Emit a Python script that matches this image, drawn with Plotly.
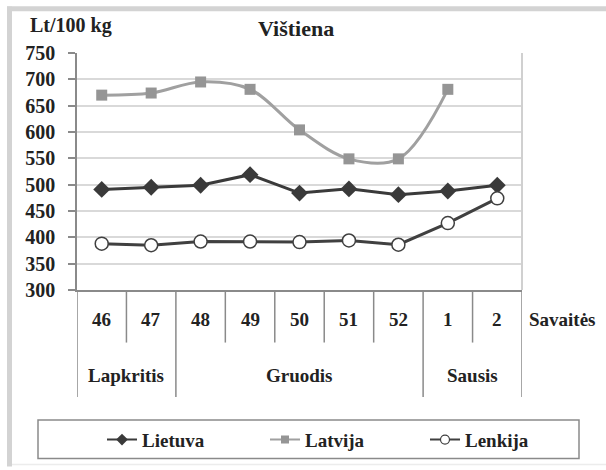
import plotly.graph_objects as go

weeks = ["46", "47", "48", "49", "50", "51", "52", "1", "2"]
months = ["Lapkritis", "Gruodis", "Sausis"]
month_centers = [0.5, 4.0, 7.5]
month_bounds = [-0.5, 1.5, 6.5, 8.5]
lietuva = [491, 495, 499, 519, 484, 492, 481, 488, 499]
latvija = [670, 674, 695, 681, 604, 549, 549, 681, None]
lenkija = [388, 385, 392, 392, 391, 394, 386, 427, 474]

FONT = "Liberation Serif, Times New Roman, serif"
TXT = "#222222"

# plot area in pixels
L, R, T, B = 77, 522, 53, 292
W, H = R - L, B - T
def px(x):
    return (x - L) / W
def py(y):
    return (B - y) / H

xs = list(range(len(weeks)))

styles = {
    "Lietuva": dict(line=dict(color="#3a3a3a", width=3),
                    marker=dict(symbol="diamond", size=13, color="#3a3a3a")),
    "Latvija": dict(line=dict(color="#a0a0a0", width=3, shape="spline", smoothing=1),
                    marker=dict(symbol="square", size=11, color="#959595")),
    "Lenkija": dict(line=dict(color="#404040", width=3),
                    marker=dict(symbol="circle", size=13, color="white",
                                line=dict(color="#404040", width=1.5))),
}
leg_styles = {
    "Lietuva": dict(line=dict(color="#3a3a3a", width=2),
                    marker=dict(symbol="diamond", size=9, color="#3a3a3a")),
    "Latvija": dict(line=dict(color="#a0a0a0", width=2),
                    marker=dict(symbol="square", size=8, color="#959595")),
    "Lenkija": dict(line=dict(color="#404040", width=2),
                    marker=dict(symbol="circle", size=9, color="white",
                                line=dict(color="#404040", width=1.2))),
}

fig = go.Figure()
for name, vals in [("Lietuva", lietuva), ("Latvija", latvija), ("Lenkija", lenkija)]:
    fig.add_trace(go.Scatter(x=xs, y=vals, name=name, mode="lines+markers",
                             connectgaps=False, showlegend=False, **styles[name]))
for name, lg in [("Lietuva", "legend"), ("Latvija", "legend"), ("Lenkija", "legend2")]:
    fig.add_trace(go.Scatter(x=[None], y=[None], name=f"<b>{name}</b>",
                             mode="lines+markers", legend=lg, showlegend=True,
                             **leg_styles[name]))

shapes = []
# outer frame (left, top, faint bottom)
shapes.append(dict(type="line", xref="paper", yref="paper",
                   x0=px(9.5), x1=px(9.5), y0=py(470), y1=py(6),
                   line=dict(color="#d3d3d3", width=5), layer="below"))
shapes.append(dict(type="line", xref="paper", yref="paper",
                   x0=px(7), x1=px(606), y0=py(8.5), y1=py(8.5),
                   line=dict(color="#d3d3d3", width=5), layer="below"))
shapes.append(dict(type="line", xref="paper", yref="paper",
                   x0=px(12), x1=px(606), y0=py(468), y1=py(468),
                   line=dict(color="#ececec", width=1.5), layer="below"))
# right border of plot
shapes.append(dict(type="line", xref="paper", yref="paper",
                   x0=1, x1=1, y0=0, y1=1,
                   line=dict(color="#d0d0d0", width=2)))
# category dividers
for i in range(len(weeks) + 1):
    xb = i - 0.5
    major = xb in month_bounds
    shapes.append(dict(type="line", xref="x", yref="paper",
                       x0=xb, x1=xb, y0=0, y1=py(400 if major else 345),
                       line=dict(color="#8a8a8a", width=1.5)))
# legend box
shapes.append(dict(type="rect", xref="paper", yref="paper",
                   x0=px(38), x1=px(579), y0=py(462), y1=py(423),
                   line=dict(color="#8a8a8a", width=1.5)))

tf = dict(family=FONT, size=19, color=TXT)
ann = []
for i, w in enumerate(weeks):
    ann.append(dict(x=i, y=py(322), xref="x", yref="paper", text=f"<b>{w}</b>",
                    showarrow=False, font=tf, xanchor="center", yanchor="middle"))
for m, c in zip(months, month_centers):
    ann.append(dict(x=c, y=py(378), xref="x", yref="paper", text=f"<b>{m}</b>",
                    showarrow=False, font=tf, xanchor="center", yanchor="middle"))
ann.append(dict(x=px(527), y=py(322), xref="paper", yref="paper", text="<b>Savaitės</b>",
                showarrow=False, font=tf, xanchor="left", yanchor="middle"))
ann.append(dict(x=px(28), y=py(25), xref="paper", yref="paper", text="<b>Lt/100 kg</b>",
                showarrow=False, font=dict(family=FONT, size=20, color=TXT),
                xanchor="left", yanchor="middle"))
ann.append(dict(x=px(296), y=py(28), xref="paper", yref="paper", text="<b>Vištiena</b>",
                showarrow=False, font=dict(family=FONT, size=22, color=TXT),
                xanchor="center", yanchor="middle"))

leg_common = dict(orientation="h", yanchor="middle", xanchor="left",
                  font=tf, bgcolor="rgba(0,0,0,0)", borderwidth=0)

fig.update_layout(
    width=606, height=470,
    margin=dict(l=L, r=606 - R, t=T, b=470 - B),
    paper_bgcolor="white", plot_bgcolor="white",
    showlegend=True,
    legend=dict(**leg_common, x=px(102), y=py(443),
                entrywidth=118, entrywidthmode="pixels"),
    legend2=dict(**leg_common, x=px(425), y=py(443)),
    xaxis=dict(range=[-0.5, 8.5], showticklabels=False, showgrid=False,
               zeroline=False, showline=True, linecolor="#8a8a8a", linewidth=1.5,
               ticks=""),
    yaxis=dict(range=[300, 750], dtick=50, tick0=300, showgrid=True,
               gridcolor="#d9d9d9", gridwidth=1.5, zeroline=False,
               showline=True, linecolor="#8a8a8a", linewidth=1.5,
               ticks="outside", ticklen=7, tickcolor="#8a8a8a", tickwidth=1.5,
               ticklabelstandoff=9,
               tickfont=dict(family=FONT, size=20, color=TXT),
               tickprefix="<b>", ticksuffix="</b>"),
    shapes=shapes, annotations=ann,
)

fig.write_html("out.html", config={"displayModeBar": False},
               post_script="document.body.style.margin='0';")
